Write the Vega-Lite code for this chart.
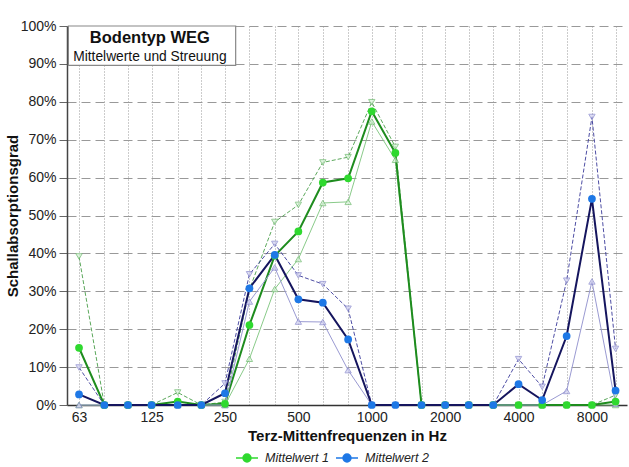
{
  "$schema": "https://vega.github.io/schema/vega-lite/v6.json",
  "width": 560,
  "height": 379,
  "autosize": {"type": "none"},
  "padding": {"left": 67, "top": 26, "right": 2, "bottom": 62},
  "background": "white",
  "config": {
    "view": {"stroke": null},
    "font": "Liberation Sans",
    "axis": {"labelFont": "Liberation Sans", "titleFont": "Liberation Sans", "labelColor": "#222", "titleColor": "#111"}
  },
  "data": {
    "values": [
      {"Hz": 63, "series": "Mittelwert 1", "mean": 15.1, "max": 39.2, "min": 0},
      {"Hz": 80, "series": "Mittelwert 1", "mean": 0, "max": 0, "min": 0},
      {"Hz": 100, "series": "Mittelwert 1", "mean": 0, "max": 0, "min": 0},
      {"Hz": 125, "series": "Mittelwert 1", "mean": 0, "max": 0, "min": 0},
      {"Hz": 160, "series": "Mittelwert 1", "mean": 0.9, "max": 3.3, "min": 0},
      {"Hz": 200, "series": "Mittelwert 1", "mean": 0, "max": 0, "min": 0},
      {"Hz": 250, "series": "Mittelwert 1", "mean": 0.3, "max": 0.8, "min": 0},
      {"Hz": 315, "series": "Mittelwert 1", "mean": 21.1, "max": 30.5, "min": 12.2},
      {"Hz": 400, "series": "Mittelwert 1", "mean": 39.4, "max": 48.3, "min": 30.6},
      {"Hz": 500, "series": "Mittelwert 1", "mean": 45.8, "max": 52.8, "min": 38.5},
      {"Hz": 630, "series": "Mittelwert 1", "mean": 58.7, "max": 64.0, "min": 53.3},
      {"Hz": 800, "series": "Mittelwert 1", "mean": 59.8, "max": 65.4, "min": 53.6},
      {"Hz": 1000, "series": "Mittelwert 1", "mean": 77.5, "max": 79.9, "min": 74.8},
      {"Hz": 1250, "series": "Mittelwert 1", "mean": 66.5, "max": 68.1, "min": 64.7},
      {"Hz": 1600, "series": "Mittelwert 1", "mean": 0, "max": 0, "min": 0},
      {"Hz": 2000, "series": "Mittelwert 1", "mean": 0, "max": 0, "min": 0},
      {"Hz": 2500, "series": "Mittelwert 1", "mean": 0, "max": 0, "min": 0},
      {"Hz": 3150, "series": "Mittelwert 1", "mean": 0, "max": 0, "min": 0},
      {"Hz": 4000, "series": "Mittelwert 1", "mean": 0, "max": 0, "min": 0},
      {"Hz": 5000, "series": "Mittelwert 1", "mean": 0, "max": 0, "min": 0},
      {"Hz": 6300, "series": "Mittelwert 1", "mean": 0, "max": 0, "min": 0},
      {"Hz": 8000, "series": "Mittelwert 1", "mean": 0, "max": 0, "min": 0},
      {"Hz": 10000, "series": "Mittelwert 1", "mean": 0.9, "max": 2.6, "min": 0},
      {"Hz": 63, "series": "Mittelwert 2", "mean": 2.8, "max": 9.9, "min": 0},
      {"Hz": 80, "series": "Mittelwert 2", "mean": 0, "max": 0, "min": 0},
      {"Hz": 100, "series": "Mittelwert 2", "mean": 0, "max": 0, "min": 0},
      {"Hz": 125, "series": "Mittelwert 2", "mean": 0, "max": 0, "min": 0},
      {"Hz": 160, "series": "Mittelwert 2", "mean": 0, "max": 0, "min": 0},
      {"Hz": 200, "series": "Mittelwert 2", "mean": 0, "max": 0, "min": 0},
      {"Hz": 250, "series": "Mittelwert 2", "mean": 3.1, "max": 5.7, "min": 0},
      {"Hz": 315, "series": "Mittelwert 2", "mean": 30.8, "max": 34.5, "min": 27.3},
      {"Hz": 400, "series": "Mittelwert 2", "mean": 39.6, "max": 42.5, "min": 36.3},
      {"Hz": 500, "series": "Mittelwert 2", "mean": 27.9, "max": 34.2, "min": 22.0},
      {"Hz": 630, "series": "Mittelwert 2", "mean": 27.0, "max": 31.9, "min": 21.9},
      {"Hz": 800, "series": "Mittelwert 2", "mean": 17.3, "max": 25.4, "min": 9.2},
      {"Hz": 1000, "series": "Mittelwert 2", "mean": 0, "max": 0, "min": 0},
      {"Hz": 1250, "series": "Mittelwert 2", "mean": 0, "max": 0, "min": 0},
      {"Hz": 1600, "series": "Mittelwert 2", "mean": 0, "max": 0, "min": 0},
      {"Hz": 2000, "series": "Mittelwert 2", "mean": 0, "max": 0, "min": 0},
      {"Hz": 2500, "series": "Mittelwert 2", "mean": 0, "max": 0, "min": 0},
      {"Hz": 3150, "series": "Mittelwert 2", "mean": 0, "max": 0, "min": 0},
      {"Hz": 4000, "series": "Mittelwert 2", "mean": 5.5, "max": 12.1, "min": 0},
      {"Hz": 5000, "series": "Mittelwert 2", "mean": 1.3, "max": 4.8, "min": 0},
      {"Hz": 6300, "series": "Mittelwert 2", "mean": 18.2, "max": 32.8, "min": 3.7},
      {"Hz": 8000, "series": "Mittelwert 2", "mean": 54.4, "max": 76.0, "min": 32.6},
      {"Hz": 10000, "series": "Mittelwert 2", "mean": 3.8, "max": 14.8, "min": 0.3}
    ]
  },
  "encoding": {
    "x": {
      "field": "Hz", "type": "quantitative",
      "scale": {"type": "log", "domain": [56.24, 11140], "nice": false, "zero": false},
      "axis": {
        "title": "Terz-Mittenfrequenzen in Hz",
        "titleFontSize": 15, "titleFontWeight": "bold", "titlePadding": 4,
        "values": [63, 80, 100, 125, 160, 200, 250, 315, 400, 500, 630, 800, 1000, 1250, 1600, 2000, 2500, 3150, 4000, 5000, 6300, 8000, 10000],
        "labelExpr": "indexof([63,125,250,500,1000,2000,4000,8000], datum.value) >= 0 ? datum.value : ''",
        "labelFontSize": 14, "labelPadding": 5, "labelFlush": false, "labelOverlap": false,
        "ticks": false,
        "domainColor": "#333", "domainWidth": 1.5,
        "grid": true, "gridColor": "#999", "gridDash": [1, 2], "gridWidth": 1
      }
    },
    "y": {
      "type": "quantitative",
      "scale": {"domain": [0, 100], "nice": false},
      "axis": {
        "title": "Schallabsorptionsgrad",
        "titleFontSize": 15, "titleFontWeight": "bold", "titlePadding": 0,
        "values": [0, 10, 20, 30, 40, 50, 60, 70, 80, 90, 100],
        "labelExpr": "datum.value + '%'",
        "labelFontSize": 14, "labelPadding": 3,
        "tickSize": 8, "tickColor": "#666",
        "domainColor": "#444", "domainWidth": 1.5,
        "grid": true, "gridColor": "#999", "gridDash": [9, 5], "gridWidth": 1
      }
    }
  },
  "layer": [
    {
      "transform": [{"filter": "datum.Hz === 63 && datum.series === 'Mittelwert 1'"}],
      "mark": {"type": "rect", "fill": "white", "stroke": "#888", "strokeWidth": 1.2},
      "encoding": {"x": {"datum": 57}, "x2": {"datum": 276.6}, "y": {"datum": 100}, "y2": {"datum": 89.6}}
    },
    {
      "transform": [{"filter": "datum.Hz === 63 && datum.series === 'Mittelwert 1'"}],
      "mark": {"type": "text", "text": "Bodentyp WEG", "fontSize": 16.5, "fontWeight": "bold", "color": "#111", "align": "center", "baseline": "middle"},
      "encoding": {"x": {"datum": 123}, "y": {"datum": 96.9}}
    },
    {
      "transform": [{"filter": "datum.Hz === 63 && datum.series === 'Mittelwert 1'"}],
      "mark": {"type": "text", "text": "Mittelwerte und Streuung", "fontSize": 13.8, "color": "#111", "align": "center", "baseline": "middle"},
      "encoding": {"x": {"datum": 123}, "y": {"datum": 91.8}}
    },
    {
      "transform": [{"filter": "datum.series === 'Mittelwert 1'"}],
      "layer": [
        {"mark": {"type": "line", "color": "#7cc47c", "strokeWidth": 0.9}, "encoding": {"y": {"field": "min"}}},
        {"mark": {"type": "line", "color": "#4a9e4a", "strokeWidth": 0.9, "strokeDash": [4, 2]}, "encoding": {"y": {"field": "max"}}},
        {"mark": {"type": "line", "color": "#1e8c1e", "strokeWidth": 2}, "encoding": {"y": {"field": "mean"}}},
        {"mark": {"type": "point", "shape": "triangle-up", "size": 40, "filled": true, "fill": "#d6f2d6", "stroke": "#6ab86a", "strokeWidth": 1}, "encoding": {"y": {"field": "min"}}},
        {"mark": {"type": "point", "shape": "triangle-down", "size": 40, "filled": true, "fill": "#d6f2d6", "stroke": "#6ab86a", "strokeWidth": 1}, "encoding": {"y": {"field": "max"}}}
      ]
    },
    {
      "transform": [{"filter": "datum.series === 'Mittelwert 2'"}],
      "layer": [
        {"mark": {"type": "line", "color": "#9a9ad2", "strokeWidth": 1}, "encoding": {"y": {"field": "min"}}},
        {"mark": {"type": "line", "color": "#3a3a9a", "strokeWidth": 0.9, "strokeDash": [4, 2]}, "encoding": {"y": {"field": "max"}}},
        {"mark": {"type": "line", "color": "#15155e", "strokeWidth": 2}, "encoding": {"y": {"field": "mean"}}},
        {"mark": {"type": "point", "shape": "triangle-up", "size": 40, "filled": true, "fill": "#cfcff0", "stroke": "#8686cc", "strokeWidth": 1}, "encoding": {"y": {"field": "min"}}},
        {"mark": {"type": "point", "shape": "triangle-down", "size": 40, "filled": true, "fill": "#cfcff0", "stroke": "#8686cc", "strokeWidth": 1}, "encoding": {"y": {"field": "max"}}}
      ]
    },
    {
      "mark": {"type": "point", "shape": "circle", "size": 60, "filled": true, "opacity": 1},
      "encoding": {
        "y": {"field": "mean"},
        "color": {
          "field": "series", "type": "nominal",
          "scale": {"domain": ["Mittelwert 1", "Mittelwert 2"], "range": ["#2fd92f", "#1e78e6"]},
          "legend": {
            "title": null, "orient": "none", "direction": "horizontal",
            "legendX": 168, "legendY": 420,
            "symbolType": "M-1,0L1,0M-0.36,0A0.36,0.36 0 1,0 0.36,0A0.36,0.36 0 1,0 -0.36,0Z",
            "symbolSize": 484, "symbolStrokeWidth": 1.5, "symbolOpacity": 1,
            "labelFontSize": 12.5, "labelFontStyle": "italic", "labelColor": "#222", "labelFont": "Liberation Sans",
            "columnPadding": 4, "labelOffset": 6,
            "encode": {"symbols": {"update": {"stroke": {"scale": "color", "field": "value"}}}}
          }
        }
      }
    }
  ]
}
